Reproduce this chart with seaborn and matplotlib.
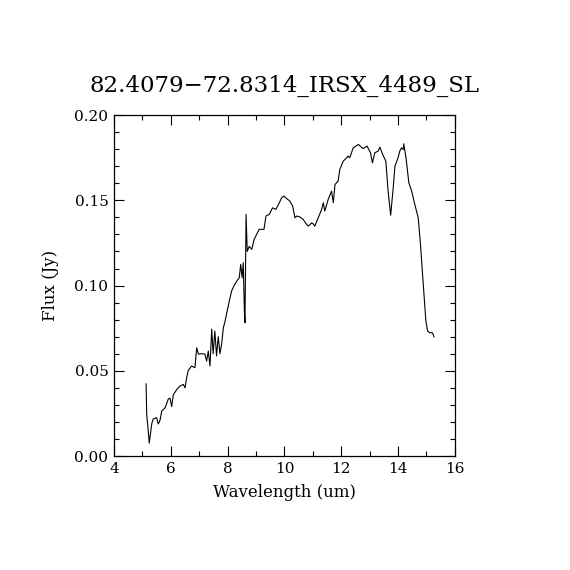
import matplotlib
matplotlib.use("Agg")
import matplotlib.pyplot as plt
import pandas as pd
import seaborn as sns
from matplotlib.ticker import MultipleLocator

TITLE = "82.4079\u221272.8314_IRSX_4489_SL"

# spectrum
wavelength = [
    5.13, 5.15, 5.20, 5.24, 5.33, 5.38, 5.50, 5.56, 5.62, 5.68, 5.80, 5.91,
    5.97, 6.03, 6.09, 6.21, 6.32, 6.44, 6.50, 6.56, 6.61, 6.73, 6.85, 6.91,
    6.97, 7.09, 7.20, 7.26, 7.32, 7.38, 7.44, 7.49, 7.55, 7.61, 7.67, 7.73,
    7.79, 7.85, 7.91, 7.97, 8.06, 8.14, 8.22, 8.32, 8.41, 8.46, 8.51, 8.55,
    8.59, 8.61, 8.65, 8.69, 8.76, 8.85, 8.93, 9.02, 9.11, 9.28, 9.35, 9.47,
    9.58, 9.70, 9.82, 9.90, 9.98, 10.08, 10.19, 10.29, 10.37, 10.43, 10.55,
    10.66, 10.78, 10.84, 10.96, 11.01, 11.07, 11.19, 11.31, 11.37, 11.42,
    11.54, 11.66, 11.72, 11.78, 11.89, 11.95, 12.07, 12.19, 12.24, 12.30,
    12.36, 12.42, 12.60, 12.77, 12.91, 13.03, 13.10, 13.18, 13.30, 13.36,
    13.46, 13.57, 13.65, 13.74, 13.83, 13.89, 14.00, 14.06, 14.12, 14.18,
    14.20, 14.28, 14.38, 14.48, 14.59, 14.71, 14.79, 14.88, 14.98, 15.04,
    15.12, 15.21, 15.27,
]
flux = [
    0.0424, 0.0246, 0.0158, 0.0076, 0.0190, 0.0217, 0.0225, 0.0188, 0.0210,
    0.0264, 0.0283, 0.0334, 0.0340, 0.0290, 0.0360, 0.0390, 0.0410, 0.0420,
    0.0400, 0.0460, 0.0500, 0.0528, 0.0518, 0.0635, 0.0598, 0.0600, 0.0598,
    0.0557, 0.0616, 0.0528, 0.0745, 0.0600, 0.0733, 0.0587, 0.0700, 0.0600,
    0.0657, 0.0753, 0.0790, 0.0840, 0.0910, 0.0968, 0.0997, 0.1026, 0.1046,
    0.1124, 0.1046, 0.1134, 0.0850, 0.0782, 0.1418, 0.1200, 0.1230, 0.1212,
    0.1270, 0.1300, 0.1330, 0.1330, 0.1408, 0.1418, 0.1456, 0.1447, 0.1486,
    0.1515, 0.1525, 0.1510, 0.1496, 0.1466, 0.1398, 0.1408, 0.1402, 0.1388,
    0.1359, 0.1349, 0.1368, 0.1362, 0.1349, 0.1398, 0.1447, 0.1486, 0.1437,
    0.1505, 0.1554, 0.1486, 0.1593, 0.1613, 0.1681, 0.1730, 0.1750, 0.1760,
    0.1750, 0.1779, 0.1808, 0.1828, 0.1804, 0.1818, 0.1779, 0.1720, 0.1779,
    0.1789, 0.1812, 0.1769, 0.1730, 0.1554, 0.1413, 0.1574, 0.1700, 0.1750,
    0.1789, 0.1808, 0.1798, 0.1832, 0.1750, 0.1603, 0.1554, 0.1476, 0.1398,
    0.1241, 0.1026, 0.0792, 0.0733, 0.0723, 0.0723, 0.0698,
]


def main() -> None:
    sns.set_style("ticks")
    plt.rcParams["font.family"] = ["DejaVu Serif"]
    plt.rcParams["text.color"] = "black"
    plt.rcParams["axes.labelcolor"] = "black"
    plt.rcParams["xtick.color"] = "black"
    plt.rcParams["ytick.color"] = "black"

    df = pd.DataFrame({"wavelength": wavelength, "flux": flux})

    fig = plt.figure(figsize=(5.7, 5.7), dpi=100)
    ax = fig.add_axes([0.2, 0.2, 0.598, 0.598])
    sns.lineplot(data=df, x="wavelength", y="flux", sort=False, estimator=None,
                 color="black", linewidth=0.8, ax=ax)

    ax.set_xlim(4, 16)
    ax.set_ylim(0, 0.20)
    ax.xaxis.set_major_locator(MultipleLocator(2))
    ax.xaxis.set_minor_locator(MultipleLocator(1))
    ax.yaxis.set_major_locator(MultipleLocator(0.05))
    ax.yaxis.set_minor_locator(MultipleLocator(0.01))
    ax.yaxis.set_major_formatter(lambda v, pos: f"{v:.2f}")
    ax.tick_params(which="both", direction="in", top=True, right=True,
                   width=0.8, labelsize=11, pad=4)
    ax.tick_params(which="major", length=7)
    ax.tick_params(which="minor", length=3.5)
    for spine in ax.spines.values():
        spine.set_visible(True)
        spine.set_color("black")
        spine.set_linewidth(0.9)

    ax.set_xlabel("Wavelength (um)", fontsize=12, labelpad=6)
    ax.set_ylabel("Flux (Jy)", fontsize=12, labelpad=11)
    ax.set_title(TITLE, fontsize=16.5, pad=17)

    fig.savefig("out.png", dpi=100, facecolor="white")
    plt.close(fig)


if __name__ == "__main__":
    main()
